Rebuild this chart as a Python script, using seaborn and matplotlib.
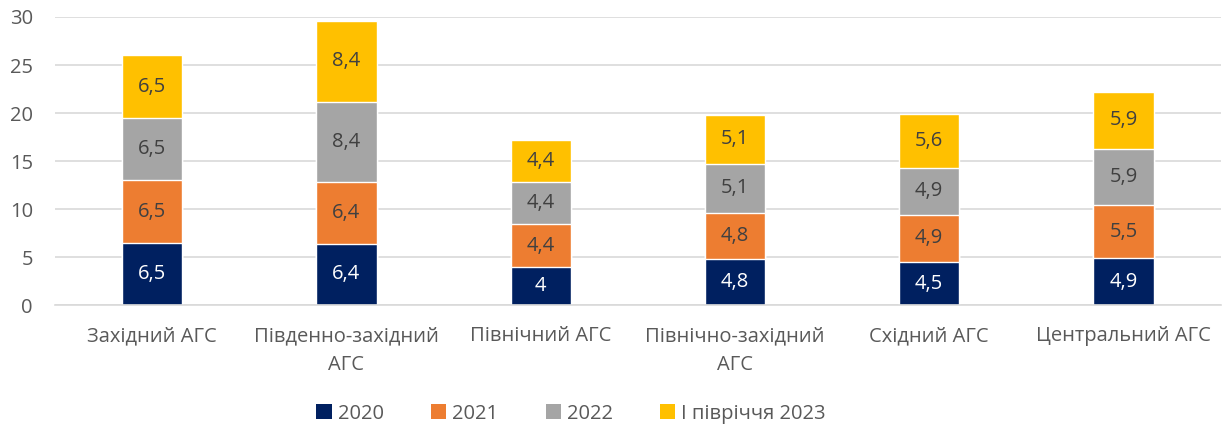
import numpy as np
import pandas as pd
import seaborn as sns
import matplotlib
matplotlib.use('Agg')
import matplotlib.pyplot as plt
from matplotlib.patches import Patch

# data
regions = ['Західний АГС', 'Південно-західний\nАГС', 'Північний АГС',
           'Північно-західний\nАГС', 'Східний АГС', 'Центральний АГС']
series = ['2020', '2021', '2022', 'І півріччя 2023']
v2020 = [6.5, 6.4, 4.0, 4.8, 4.5, 4.9]
v2021 = [6.5, 6.4, 4.4, 4.8, 4.9, 5.5]
v2022 = [6.5, 8.4, 4.4, 5.1, 4.9, 5.9]
v2023 = [6.5, 8.4, 4.4, 5.1, 5.6, 5.9]
colors = ['#002060', '#ED7D31', '#A5A5A5', '#FFC000']
label_colors = ['white', '#404040', '#404040', '#404040']

sns.set_theme(style='white')
plt.rcParams['font.family'] = ['Open Sans', 'DejaVu Sans']

values = np.array([v2020, v2021, v2022, v2023])
cum = values.cumsum(axis=0)

fig = plt.figure(figsize=(12.23, 4.25), dpi=100)
ax = fig.add_axes([0.045, 0.282, 0.953, 0.678])

# stacked bars: draw cumulative totals from the top series down
for i in range(len(series) - 1, -1, -1):
    df = pd.DataFrame({'region': regions, 'total': cum[i]})
    sns.barplot(data=df, x='region', y='total', color=colors[i],
                saturation=1, width=0.31, ax=ax, zorder=2)

# segment labels
for i in range(len(series)):
    for j in range(len(regions)):
        mid = cum[i][j] - values[i][j] / 2
        txt = ('%g' % values[i][j]).replace('.', ',')
        ax.text(j, mid, txt, ha='center', va='center', fontsize=14.5,
                color=label_colors[i], zorder=3)

ax.set_ylim(0, 30)
ax.set_xlim(-0.5, len(regions) - 0.5)
ax.set_yticks(range(0, 31, 5))
ax.yaxis.grid(True, color='#D9D9D9', linewidth=1.2, zorder=0)
ax.set_axisbelow(True)
for s in ['top', 'right', 'left']:
    ax.spines[s].set_visible(False)
ax.spines['bottom'].set_color('#D9D9D9')
ax.spines['bottom'].set_linewidth(1.2)
ax.set_xlabel('')
ax.set_ylabel('')
ax.tick_params(axis='both', length=0, labelsize=14.5, labelcolor='#595959')
ax.tick_params(axis='y', pad=16)
ax.tick_params(axis='x', pad=15)
for lab in ax.get_xticklabels():
    lab.set_linespacing(1.6)

handles = [Patch(facecolor=c, edgecolor='none') for c in colors]
fig.legend(handles, series, loc='lower center', ncol=4, frameon=False,
           fontsize=14.5, labelcolor='#595959', handlelength=0.75,
           handleheight=0.75, handletextpad=0.3, columnspacing=2.35,
           bbox_to_anchor=(0.467, -0.04))

fig.savefig('out.png', dpi=100)
